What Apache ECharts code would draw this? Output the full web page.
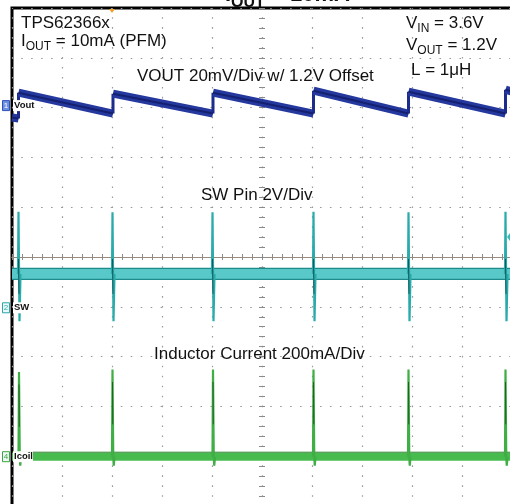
<!DOCTYPE html>
<html>
<head>
<meta charset="utf-8">
<script src="https://cdn.jsdelivr.net/npm/echarts@6/dist/echarts.min.js"></script>
<style>
html,body{margin:0;padding:0;background:#fff;}
#c{width:510px;height:504px;}
</style>
</head>
<body>
<div id="c"></div>
<script>
// ---- Data (units: scope divisions; x = time div from centre, y = div from centre) ----
// VOUT (20mV/div, 1.2V offset): sawtooth vertices
const voutT = [-5.00, -4.87, -4.87, -2.98, -2.98, -0.98, -0.98, 1.03, 1.03, 2.93, 2.93, 4.87, 4.87, 5.00];
const voutV = [ 2.80,  2.78,  3.30,  2.88,  3.28,  2.88,  3.30, 2.88, 3.34, 2.88, 3.32, 2.88, 3.36, 3.32];

// SW pin (2V/div)
const swBase = -0.34;
const swBandEdges = [-0.23, -0.45];
const swSpikeT = [-4.87, -2.99, -0.99, 1.03, 2.93, 4.87];
const swSpikeHigh = [0.91, 0.90, 0.90, 0.91, 0.90, 0.91];
const swSpikeLow = [-1.29, -1.29, -1.29, -1.29, -1.29, -1.29];

// Inductor current (200mA/div)
const ilBase = -4.01;
const ilBandEdges = [-3.92, -4.10];
const ilSpikeT = [-4.86, -2.99, -0.98, 1.03, 2.93, 4.87];
const ilSpikeHigh = [-2.31, -2.26, -2.26, -2.26, -2.26, -2.26];
const ilSpikeLow = [-4.19, -4.19, -4.19, -4.19, -4.19, -4.19];

// channel ground markers (div)
const chMarkers = [
  {name: '1', label: 'Vout', level: 3.04, color: '#2f52b8'},
  {name: '2', label: 'SW', level: -1.02, color: '#2aa6a6'},
  {name: '4', label: 'Icoil', level: -4.01, color: '#3aa53f'}
];
const xDivs = [-5, 5];
const yDivs = [-5, 5];

// ---- Build series ----
const series = [];
function lineSeries(data, color, width, z) {
  series.push({
    type: 'line', data: data, showSymbol: false, symbol: 'none', animation: false,
    lineStyle: {color: color, width: width, cap: 'butt', join: 'miter'},
    z: z || 2, clip: true, xAxisIndex: 0, yAxisIndex: 0
  });
}

// SW band
lineSeries([[xDivs[0], swBase], [xDivs[1], swBase]], '#58c8c8', 10, 3);
swBandEdges.forEach(e => lineSeries([[xDivs[0], e], [xDivs[1], e]], '#1f8a8a', 1.2, 4));
// SW spikes
swSpikeT.forEach((t, i) => {
  lineSeries([[t - 0.01, swBase], [t, swSpikeHigh[i]], [t + 0.02, swSpikeLow[i]], [t + 0.04, swBase]], '#2aabab', 2.2, 5);
  lineSeries([[t, swBase + 0.3], [t + 0.01, swBase - 0.4]], '#10595a', 1, 6);
});

// Icoil band
lineSeries([[xDivs[0], ilBase], [xDivs[1], ilBase]], '#48bb4e', 8, 3);
lineSeries([[xDivs[0], ilBandEdges[0]], [xDivs[1], ilBandEdges[0]]], '#2b7f2f', 1, 4);
// Icoil spikes
ilSpikeT.forEach((t, i) => {
  lineSeries([[t - 0.01, ilBase], [t, ilSpikeHigh[i]], [t + 0.015, ilBase], [t + 0.025, ilSpikeLow[i]], [t + 0.04, ilBase]], '#3fae45', 2.2, 5);
  lineSeries([[t, ilSpikeHigh[i] - 0.25], [t + 0.005, ilSpikeHigh[i] - 1.1]], '#1f5f22', 1, 6);
});

// Vout: thick ramps and thin jumps
for (let i = 0; i < voutT.length - 1; i++) {
  const a = [voutT[i], voutV[i]], b = [voutT[i + 1], voutV[i + 1]];
  if (voutT[i] === voutT[i + 1]) {
    lineSeries([a, b], '#1c2c8c', 3, 7);
  } else {
    lineSeries([a, b], '#24389e', 8, 7);
    lineSeries([a, b], '#142070', 2, 8);
  }
}

const font = "'Liberation Sans', Arial, sans-serif";
const dotGrid = {show: true, lineStyle: {color: '#9a9a9a', width: 1.2, type: [1.6, 8.36], dashOffset: 0.8}};

function tickAxis(dim, pos, showLine) {
  return {
    type: 'value', min: (dim === 'x' ? xDivs : yDivs)[0], max: (dim === 'x' ? xDivs : yDivs)[1],
    interval: 1, position: pos,
    axisLine: {show: showLine, onZero: true, lineStyle: {color: '#9b8a7c', width: 1}},
    axisTick: {show: true, inside: false, length: 3, lineStyle: {color: '#8a8a8a', width: 1}},
    minorTick: {show: true, splitNumber: 5, length: 3, lineStyle: {color: '#8a8a8a', width: 1}},
    axisLabel: {show: false},
    splitLine: pos === 'bottom' || pos === 'left' ? dotGrid : {show: false},
    minorSplitLine: {show: false}
  };
}

const chart = echarts.init(document.getElementById('c'), null, {renderer: 'canvas'});
chart.setOption({
  animation: false,
  backgroundColor: '#fff',
  grid: {left: 12, top: 8, width: 500, height: 498, show: true, borderColor: '#000', borderWidth: 3,
    backgroundColor: '#fff', containLabel: false, outerBoundsMode: 'none'},
  xAxis: [tickAxis('x', 'bottom', true), tickAxis('x', 'top', true)],
  yAxis: [tickAxis('y', 'left', false), tickAxis('y', 'right', false)],
  series: series
});

// ---- Annotations ----
const g = [];
function txt(x, y, text, size) {
  g.push({type: 'text', z: 100, style: {x: x, y: y, text: text, font: (size || 17) + 'px ' + font, fill: '#111', verticalAlign: 'middle', align: 'left'}});
}
function subTxt(x, y, parts, size, subSize, bold) {
  const w = bold ? 'bold' : 'normal';
  const lh = Math.round(size * 1.2);
  g.push({type: 'text', z: 100, style: {
    x: x, y: y, verticalAlign: 'middle', align: 'left',
    text: parts.map((p, i) => (i % 2 ? '{s|' : '{m|') + p + '}').join(''),
    rich: {
      m: {fontSize: size, fontFamily: font, fontWeight: w, fill: '#111', lineHeight: lh, verticalAlign: 'middle'},
      s: {fontSize: subSize, fontFamily: font, fontWeight: w, fill: '#111', height: subSize * 0.7, verticalAlign: 'bottom'}
    }
  }});
}
// clipped figure title
subTxt(225, -5, ['I', 'OUT', ' = 10mA'], 22, 16, true);
txt(21, 23, 'TPS62366x');
subTxt(21, 41, ['I', 'OUT', ' = 10mA (PFM)'], 17, 12);
txt(137, 76, 'VOUT 20mV/Div w/ 1.2V Offset');
subTxt(406, 23, ['V', 'IN', ' = 3.6V'], 17, 12);
subTxt(406, 45, ['V', 'OUT', ' = 1.2V'], 17, 12);
txt(411, 70, 'L = 1\u03bcH');
txt(201, 195, 'SW Pin 2V/Div');
txt(154, 354, 'Inductor Current 200mA/Div');

// channel markers
chMarkers.forEach(m => {
  const p = chart.convertToPixel({gridIndex: 0}, [xDivs[0], m.level]);
  g.push({type: 'rect', z: 101, shape: {x: 2.5, y: p[1] - 5, width: 7, height: 10},
    style: {fill: m.name === '1' ? '#6d8fe0' : '#eef8f8', stroke: m.color, lineWidth: 1}});
  g.push({type: 'text', z: 102, style: {x: 6, y: p[1] + 0.5, text: m.name, font: '8px ' + font,
    fill: m.name === '1' ? '#fff' : m.color, align: 'center', verticalAlign: 'middle'}});
  g.push({type: 'text', z: 102, style: {x: 13, y: p[1], text: m.label, font: 'bold 9.5px ' + font,
    fill: '#111', align: 'left', verticalAlign: 'middle', backgroundColor: '#fff', padding: [1, 0, 0, 1]}});
});
// trigger position (top) and trigger level (right) markers
const tp = chart.convertToPixel({gridIndex: 0}, [-3.0, yDivs[1]]);
g.push({type: 'polygon', z: 103, shape: {points: [[tp[0] - 3, tp[1] + 1], [tp[0] + 3, tp[1] + 1], [tp[0], tp[1] + 5]]}, style: {fill: '#f0a030'}});
const tl = chart.convertToPixel({gridIndex: 0}, [3.0, 0.4]);
g.push({type: 'polygon', z: 103, shape: {points: [[507, tl[1]], [510, tl[1] - 4], [510, tl[1] + 4]]}, style: {fill: '#39b9b9'}});

chart.setOption({graphic: g});
</script>
</body>
</html>
